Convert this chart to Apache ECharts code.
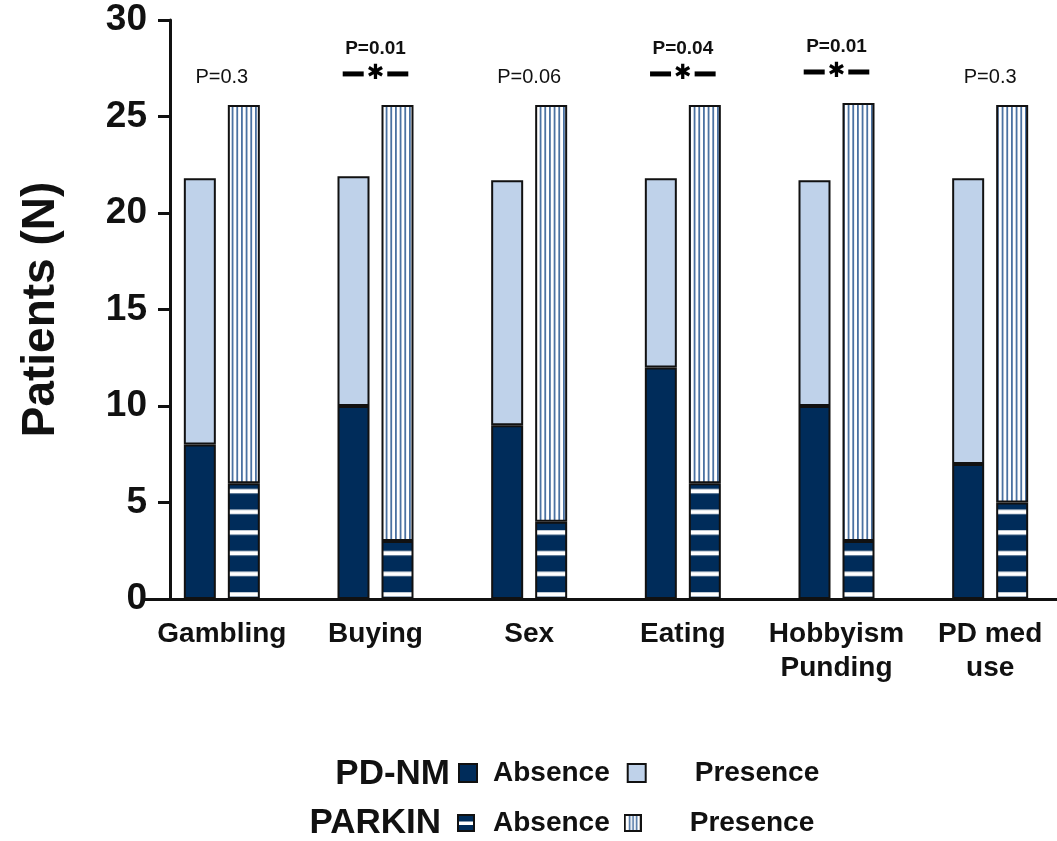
<!DOCTYPE html>
<html>
<head>
<meta charset="utf-8">
<title>Patients (N)</title>
<script src="https://cdn.jsdelivr.net/npm/echarts@6/dist/echarts.min.js"></script>
<style>
  html, body { margin: 0; padding: 0; background: #ffffff; }
  #chart { width: 1057px; height: 841px; }
</style>
</head>
<body>
<div id="chart"></div>
<script>
// Behaviour categories (two-line names where the axis label wraps)
const categories = ['Gambling', 'Buying', 'Sex', 'Eating', 'Hobbyism\nPunding', 'PD med\nuse'];

// PD-NM patients: absence / presence of each behaviour
const pdnmAbsence  = [8, 10, 9, 12, 10, 7];
const pdnmPresence = [13.8, 11.9, 12.7, 9.8, 11.7, 14.8];

// PARKIN patients: absence / presence of each behaviour
const parkinAbsence  = [6, 3, 4, 6, 3, 5];
const parkinPresence = [19.6, 22.6, 21.6, 19.6, 22.7, 20.6];

// Group comparison above each pair of bars
const pLabels     = ['P=0.3', 'P=0.01', 'P=0.06', 'P=0.04', 'P=0.01', 'P=0.3'];
const significant = [false, true, false, true, true, false];

// Value axis
const yMin = 0, yMax = 30, yStep = 5;

const NAVY = '#002c5a';
const LIGHT = '#bfd2ea';
const STRIPE = '#4b72a2';
const EDGE = '#111111';
const FONT = '"Liberation Sans", Arial, sans-serif';

const chart = echarts.init(document.getElementById('chart'), null, { renderer: 'canvas' });

// Navy fill crossed by white horizontal bands, phased to the axis baseline
function horizontalStripes(baseline) {
  const period = 62; // three bands per tile
  const c = document.createElement('canvas');
  c.width = 8; c.height = period;
  const g = c.getContext('2d');
  g.fillStyle = NAVY; g.fillRect(0, 0, 8, period);
  g.fillStyle = '#ffffff';
  for (let k = 0; k < 3; k++) g.fillRect(0, k * period / 3, 8, 4.5);
  return { image: c, repeat: 'repeat', x: 0, y: baseline - 6.75 };
}

// White fill with thin vertical blue lines
function verticalStripes() {
  const w = 14;
  const c = document.createElement('canvas');
  c.width = w; c.height = 4;
  const g = c.getContext('2d');
  g.fillStyle = '#ffffff'; g.fillRect(0, 0, w, 4);
  g.fillStyle = STRIPE;
  for (let k = 0; k < 3; k++) g.fillRect(k * w / 3, 0, 1.8, 4);
  return { image: c, repeat: 'repeat', x: 3 };
}

// Small framed swatches for the striped legend entries
function swatch(draw) {
  const s = 18;
  const c = document.createElement('canvas');
  c.width = s; c.height = s;
  const g = c.getContext('2d');
  draw(g, s);
  g.strokeStyle = EDGE; g.lineWidth = 2;
  g.strokeRect(1, 1, s - 2, s - 2);
  return 'image://' + c.toDataURL();
}
const parkinAbsenceIcon = swatch((g, s) => {
  g.fillStyle = NAVY; g.fillRect(0, 0, s, s);
  g.fillStyle = '#ffffff'; g.fillRect(0, 7.5, s, 3.5);
});
const parkinPresenceIcon = swatch((g, s) => {
  g.fillStyle = '#ffffff'; g.fillRect(0, 0, s, s);
  g.fillStyle = STRIPE;
  [5, 8.5, 12].forEach(x => g.fillRect(x, 0, 1.6, s));
});

function pLabelText(i) {
  return significant[i]
    ? '{b|' + pLabels[i] + '}\n{d| }{s|✱}{d| }'
    : '{n|' + pLabels[i] + '}';
}

const barBase = {
  type: 'bar',
  barWidth: 32,
  barGap: '37.5%',
  emphasis: { disabled: true },
  itemStyle: { borderColor: EDGE, borderWidth: 2 }
};

const legendText = { color: EDGE, fontFamily: FONT, fontSize: 28, fontWeight: 'bold', lineHeight: 30 };

function buildOption(baseline) {
  return {
    animation: false,
    backgroundColor: '#ffffff',
    textStyle: { fontFamily: FONT },
    grid: { left: 145, top: 20, width: 922, height: 579, containLabel: false, outerBoundsMode: 'none' },
    xAxis: {
      type: 'category',
      data: categories,
      axisLine: { lineStyle: { color: EDGE, width: 3 } },
      axisTick: { show: false },
      axisLabel: {
        interval: 0, color: EDGE, fontFamily: FONT, fontSize: 28, fontWeight: 'bold',
        lineHeight: 34, margin: 18
      }
    },
    yAxis: {
      type: 'value',
      min: yMin, max: yMax, interval: yStep,
      offset: -25,
      axisLine: { show: true, lineStyle: { color: EDGE, width: 3 } },
      axisTick: { show: true, length: 12, lineStyle: { color: EDGE, width: 3 } },
      splitLine: { show: false },
      axisLabel: { color: EDGE, fontFamily: FONT, fontSize: 37, fontWeight: 'bold', margin: 23 },
      name: 'Patients (N)',
      nameLocation: 'middle',
      nameRotate: 90,
      nameGap: 106,
      nameMoveOverlap: false,
      nameTextStyle: { color: EDGE, fontFamily: FONT, fontSize: 46, fontWeight: 'bold' }
    },
    title: [
      { text: 'PD-NM', right: 607, top: 757, padding: 0,
        textStyle: { color: EDGE, fontFamily: FONT, fontSize: 35, fontWeight: 'bold' } },
      { text: 'PARKIN', right: 616, top: 806, padding: 0,
        textStyle: { color: EDGE, fontFamily: FONT, fontSize: 35, fontWeight: 'bold' } }
    ],
    legend: [
      {
        left: 458, top: 758, padding: 0, orient: 'horizontal',
        itemWidth: 18, itemHeight: 18, itemGap: 17, selectedMode: false,
        icon: 'rect',
        itemStyle: { borderColor: EDGE, borderWidth: 2 },
        formatter: n => n.split(' ')[1],
        textStyle: legendText,
        data: [
          { name: 'PD-NM Absence', textStyle: { padding: [0, 0, 0, 11] } },
          { name: 'PD-NM Presence', textStyle: { padding: [0, 0, 0, 44] } }
        ]
      },
      {
        left: 457, top: 808, padding: 0, orient: 'horizontal',
        itemWidth: 18, itemHeight: 18, itemGap: 14, selectedMode: false,
        formatter: n => n.split(' ')[1],
        textStyle: legendText,
        data: [
          { name: 'PARKIN Absence', icon: parkinAbsenceIcon, textStyle: { padding: [0, 0, 0, 13] } },
          { name: 'PARKIN Presence', icon: parkinPresenceIcon, textStyle: { padding: [0, 0, 0, 43] } }
        ]
      }
    ],
    series: [
      Object.assign({}, barBase, {
        name: 'PD-NM Absence', stack: 'pdnm', data: pdnmAbsence,
        itemStyle: { color: NAVY, borderColor: EDGE, borderWidth: 2 }
      }),
      Object.assign({}, barBase, {
        name: 'PD-NM Presence', stack: 'pdnm', data: pdnmPresence,
        itemStyle: { color: LIGHT, borderColor: EDGE, borderWidth: 2 }
      }),
      Object.assign({}, barBase, {
        name: 'PARKIN Absence', stack: 'parkin', data: parkinAbsence,
        itemStyle: { color: horizontalStripes(baseline), borderColor: EDGE, borderWidth: 2 }
      }),
      Object.assign({}, barBase, {
        name: 'PARKIN Presence', stack: 'parkin',
        data: parkinPresence.map((v, i) => ({
          value: v,
          label: { distance: significant[i] ? 21 : 16 }
        })),
        itemStyle: { color: verticalStripes(), borderColor: EDGE, borderWidth: 2 },
        label: {
          show: true,
          position: 'top',
          offset: [-22, 0],
          formatter: p => pLabelText(p.dataIndex),
          rich: {
            n: { fontFamily: FONT, fontSize: 20, color: EDGE, lineHeight: 22 },
            b: { fontFamily: FONT, fontSize: 19, fontWeight: 'bold', color: EDGE, lineHeight: 30 },
            d: { width: 21, height: 5, backgroundColor: '#000000', verticalAlign: 'middle', lineHeight: 20 },
            s: { fontFamily: '"DejaVu Sans", sans-serif', fontSize: 21, fontWeight: 'bold',
                 color: '#000000', padding: [0, 3], lineHeight: 20, verticalAlign: 'middle' }
          }
        }
      })
    ]
  };
}

// First pass lays out the axes; the baseline pixel then phases the striped fill.
chart.setOption(buildOption(0));
const baseline = chart.convertToPixel({ yAxisIndex: 0 }, 0);
chart.setOption(buildOption(baseline), true);
</script>
</body>
</html>
